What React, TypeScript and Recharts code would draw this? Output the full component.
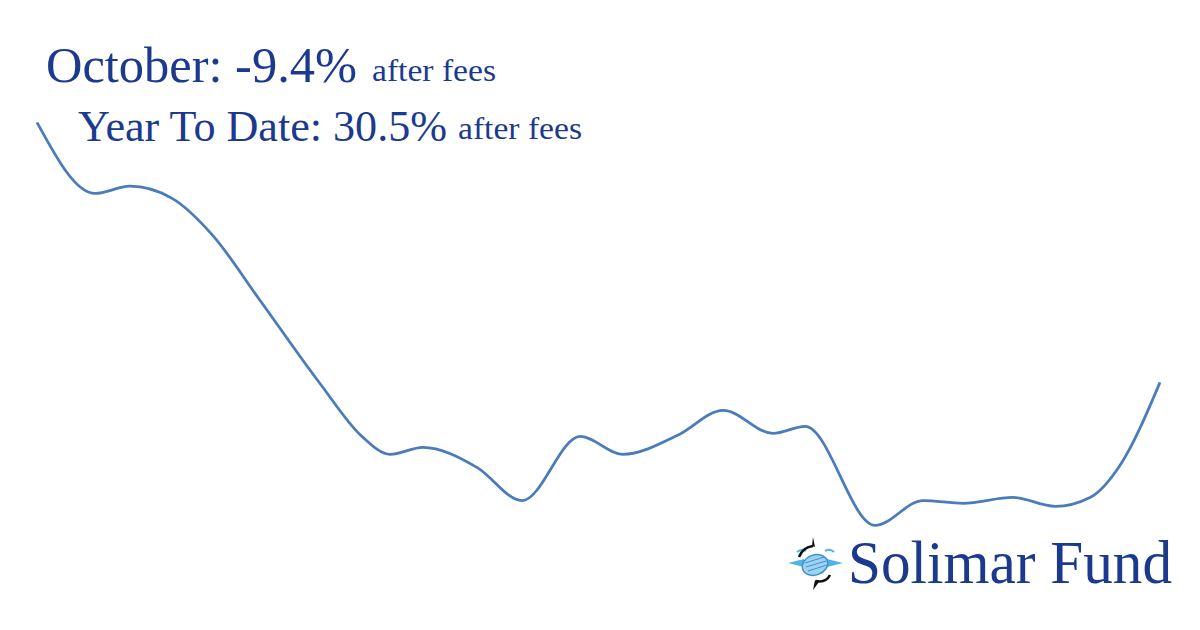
import React from 'react';
import { LineChart, Line, XAxis, YAxis } from 'recharts';

// October, day of month (fractional = intraday reading off the curve)
const days = [
  1.0, 2.55, 3.48, 4.61, 5.67, 6.96, 8.56, 9.68, 10.43, 11.31, 12.75, 13.96, 15.51, 16.65,
  18.1, 19.33, 20.66, 21.52, 23.39, 24.67, 25.74, 27.07, 28.2, 29.13, 29.93, 31.0,
];
// month-to-date return, %
const returns = [
  0.0, -2.57, -2.31, -2.75, -4.05, -6.44, -9.44, -11.35, -12.0, -11.75, -12.47, -13.67, -11.35, -12.0,
  -11.32, -10.41, -11.24, -10.99, -14.57, -13.67, -13.77, -13.56, -13.88, -13.56, -12.4, -9.4,
];

const monthLabel = 'October: -9.4%';
const ytdLabel = 'Year To Date: 30.5%';
const feesLabel = 'after fees';
const fundName = 'Solimar Fund';

const chartData = days.map((d, i) => ({ day: d, ret: returns[i] }));

const navy = '#1b3a8e';
const serif = '"Liberation Serif", "DejaVu Serif", serif';

const Logo = () => (
  <g>
    {/* blue side spikes */}
    <polygon points="788,563 804,559 804,567" fill="#4fb3e6" />
    <polygon points="843,563 827,559 827,567" fill="#4fb3e6" />
    <path d="M797,552 Q802,548 806,551" stroke="#4fb3e6" strokeWidth={2} fill="none" />
    <path d="M825,551 Q830,548 834,552" stroke="#4fb3e6" strokeWidth={2} fill="none" />
    {/* mask */}
    <ellipse cx={815} cy={565} rx={13} ry={10} fill="#9fd2f0" stroke="#3b92d2" strokeWidth={1.5} transform="rotate(-20 815 565)" />
    <path d="M805,563 L824,557 M806,567 L826,561 M808,571 L827,565" stroke="#3b92d2" strokeWidth={1} />
    {/* black arcs */}
    <path d="M799,557 Q803,547 813,546" stroke="#111" strokeWidth={2.5} fill="none" />
    <path d="M812,546 L813,537 L815,547 Z" fill="#111" />
    <path d="M816,581 Q826,583 830,575" stroke="#111" strokeWidth={2.5} fill="none" />
    <path d="M815,580 L813,590 L819,582 Z" fill="#111" />
  </g>
);

export default function App() {
  return (
    <div style={{ position: 'relative', width: 1200, height: 630, background: '#fff' }}>
      <style>{'body{margin:0}'}</style>
      <LineChart width={1200} height={630} data={chartData} margin={{ top: 67, right: 40, bottom: 65, left: 37 }}>
        <XAxis dataKey="day" type="number" domain={[1, 31]} hide />
        <YAxis type="number" domain={[-16, 2]} hide />
        <Line
          type="monotone"
          dataKey="ret"
          stroke="#4a7bbb"
          strokeWidth={2.75}
          dot={false}
          isAnimationActive={false}
        />
      </LineChart>
      <svg width={1200} height={630} style={{ position: 'absolute', left: 0, top: 0, pointerEvents: 'none' }}>
        <text x={46} y={82} fill={navy} fontFamily={serif} fontSize={50} textLength={311} lengthAdjust="spacingAndGlyphs">
          {monthLabel}
        </text>
        <text x={372} y={81} fill={navy} fontFamily={serif} fontSize={31} textLength={124} lengthAdjust="spacingAndGlyphs">
          {feesLabel}
        </text>
        <text x={78} y={141} fill={navy} fontFamily={serif} fontSize={44} textLength={369} lengthAdjust="spacingAndGlyphs">
          {ytdLabel}
        </text>
        <text x={458} y={139} fill={navy} fontFamily={serif} fontSize={31} textLength={124} lengthAdjust="spacingAndGlyphs">
          {feesLabel}
        </text>
        <Logo />
        <text x={848} y={583} fill={navy} fontFamily={serif} fontSize={62} textLength={324} lengthAdjust="spacingAndGlyphs">
          {fundName}
        </text>
      </svg>
    </div>
  );
}
